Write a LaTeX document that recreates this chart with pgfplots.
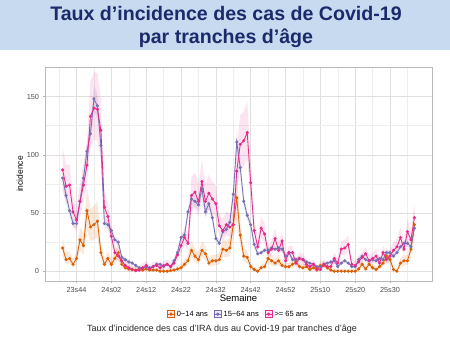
\documentclass[border=0pt]{standalone}
\usepackage{fontspec}
\setmainfont{Liberation Sans}
\usepackage{pgfplots}
\pgfplotsset{compat=1.18}
\usepackage{pgfplotstable}
\usepgfplotslibrary{fillbetween}
\definecolor{cO}{HTML}{D95F02}
\definecolor{cB}{HTML}{7570B3}
\definecolor{cM}{HTML}{E7298A}
\definecolor{band}{HTML}{C8DAF0}
\definecolor{navy}{HTML}{1B2A6B}
\definecolor{tick}{HTML}{4D4D4D}
\pgfplotstableread{
i O Ol Oh B Bl Bh M Ml Mh
-4 20 13 29 80 73 87 87 69 107
-3 10 6 16 65 59 71 73 58 91
-2 11 7 17 52 47 57 74 59 92
-1 6 3 10 41 37 45 51 40 64
0 11 7 17 41 37 45 44 34 56
1 27 18 38 60 55 65 60 47 75
2 22 14 32 80 73 87 74 59 92
3 52 35 72 103 95 111 91 73 112
4 38 26 53 118 109 127 133 107 163
5 40 27 56 148 137 159 140 113 171
6 43 29 60 142 131 153 139 112 170
7 16 10 24 108 99 117 121 97 148
8 6 3 10 41 37 45 55 43 69
9 11 7 17 40 36 44 47 37 59
10 6 3 10 35 32 38 30 23 39
11 11 7 17 27 24 30 16 11 22
12 16 10 24 25 22 28 13 9 19
13 6 3 10 12 10 14 9 5 14
14 3 1 6 10 8 12 5 2 9
15 2 0 5 8 6 10 3 0 7
16 1.5 0 4 7 6 8 1.5 0 5
17 1 0 3 5 4 6 0.5 0 4
18 2 0 5 3 2 4 1 0 4
19 1 0 3 3 2 4 3 0 7
20 2 0 5 4 3 5 5 2 9
21 1 0 3 3 2 4 2 0 5
22 1 0 3 4 3 5 4 1 8
23 1 0 3 6 5 7 5 2 9
24 0 0 2 6 5 7 3 0 7
25 0 0 2 4 3 5 5 2 9
26 0 0 2 6 5 7 6 3 10
27 0.5 0 3 4 3 5 4 1 8
28 1 0 3 9 7 11 7 4 11
29 2 0 5 16 14 18 14 9 20
30 3 1 6 29 26 32 22 16 29
31 6 3 10 31 28 34 29 22 38
32 9 5 14 51 46 56 24 18 32
33 18 12 26 62 57 67 65 51 81
34 13 8 20 60 55 65 68 54 85
35 10 6 16 57 52 62 60 47 75
36 18 12 26 71 65 77 77 61 95
37 15 10 22 51 46 56 60 47 75
38 7 4 11 58 53 63 67 53 83
39 9 5 14 46 42 50 62 49 77
40 9 5 14 28 25 31 58 46 73
41 10 6 16 24 21 27 39 30 50
42 19 12 28 34 31 37 35 27 45
43 18 12 26 36 32 40 40 31 51
44 20 13 29 42 38 46 38 29 49
45 40 27 56 66 60 72 40 31 51
46 63 43 87 111 102 120 86 69 106
47 31 21 44 89 82 96 109 87 134
48 13 8 20 60 55 65 112 90 137
49 12 7 18 48 44 52 119 96 146
50 4 2 7 40 36 44 76 60 94
51 1.5 0 4 23 20 26 35 27 45
52 0 0 2 15 13 17 21 15 28
53 3 1 6 16 14 18 37 28 47
54 4 2 7 18 16 20 32 24 41
55 11 7 17 18 16 20 16 11 22
56 9 5 14 20 18 22 19 14 26
57 7 4 11 19 17 21 28 21 37
58 9 5 14 20 18 22 18 13 25
59 5 3 9 19 17 21 26 19 34
60 4 2 7 13 11 15 9 5 14
61 4 2 7 16 14 18 16 11 22
62 6 3 10 10 8 12 16 11 22
63 8 5 13 10 8 12 7 4 11
64 4 2 7 11 9 13 11 7 16
65 3 1 6 10 8 12 10 6 15
66 4 2 7 8 6 10 6 3 10
67 1.5 0 4 7 6 8 4 1 8
68 3 1 6 6 5 7 6 3 10
69 1 0 3 4 3 5 2 0 5
70 5 3 9 4 3 5 1.5 0 5
71 5 3 9 6 5 7 6 3 10
72 3 1 6 7 6 8 4 1 8
73 1 0 3 8 6 10 4 1 8
74 0 0 2 9 7 11 11 7 16
75 0 0 2 4 3 5 7 4 11
76 0 0 2 7 6 8 19 14 26
77 0 0 2 9 7 11 20 14 27
78 0 0 2 7 6 8 23 17 31
79 0 0 2 4 3 5 6 3 10
80 0 0 2 4 3 5 5 2 9
81 2 0 5 10 8 12 8 5 13
82 6 3 10 13 11 15 12 8 17
83 2 0 5 10 8 12 15 10 21
84 6 3 10 9 7 11 9 5 14
85 3 1 6 10 8 12 11 7 16
86 1.5 0 4 9 7 11 13 9 19
87 4 2 7 11 9 13 7 4 11
88 7 4 11 10 8 12 16 11 22
89 13 8 20 16 14 18 10 6 15
90 10 6 16 16 14 18 13 9 19
91 1.5 0 4 13 11 15 18 13 25
92 0 0 2 16 14 18 21 15 28
93 7 4 11 21 19 23 29 22 38
94 9 5 14 24 21 27 19 14 26
95 9 5 14 24 21 27 34 26 44
96 19 12 28 21 19 23 27 20 35
97 40 27 56 37 33 41 46 36 58
}\data
\begin{document}
\begin{tikzpicture}
\path (0pt,0pt) rectangle (450pt,350pt);
\fill[band] (0pt,300pt) rectangle (450pt,350pt);
\node[font=\fontsize{19.6}{22.5}\selectfont\bfseries, text=navy, align=center] at (226pt,323pt) {Taux d’incidence des cas de Covid-19\\par tranches d’âge};
\begin{axis}[
  at={(45pt,69pt)}, anchor=south west, scale only axis,
  width=387pt, height=214pt,
  xmin=-9.05, xmax=102.05, ymin=-8.35, ymax=175.35,
  xtick={0,10,...,90},
  xticklabels={23s44,24s02,24s12,24s22,24s32,24s42,24s52,25s10,25s20,25s30},
  minor xtick={-5,5,...,95},
  ytick={0,50,100,150}, minor ytick={25,75,125},
  grid=both,
  major grid style={draw=gray!25, line width=0.5pt},
  minor grid style={draw=gray!13, line width=0.4pt},
  axis line style={draw=gray!55, line width=0.5pt},
  tick align=outside, major tick length=2.5pt, minor tick length=0pt,
  major tick style={draw=gray!60, line width=0.45pt},
  xtick pos=bottom, ytick pos=left,
  tick label style={font=\fontsize{7.3}{8}\selectfont, text=tick},
  /pgf/number format/assume math mode=true,
  xlabel={Semaine}, ylabel={incidence},
  xlabel style={font=\fontsize{9.5}{11}\selectfont, at={(axis description cs:0.5,-0.08)}, anchor=center},
  ylabel style={font=\fontsize{8.5}{10}\selectfont, at={(axis description cs:-0.065,0.5)}, anchor=center, rotate=0},
  legend style={at={(0.5,-0.155)}, anchor=center, draw=none, fill=none,
    legend columns=3, font=\fontsize{7.5}{9}\selectfont,
    /tikz/every even column/.append style={column sep=4pt}},
  legend cell align=left,
]
% ribbons
\addplot[draw=none, name path=ol, forget plot] table[x=i,y=Ol]{\data};
\addplot[draw=none, name path=oh, forget plot] table[x=i,y=Oh]{\data};
\addplot[fill=cO, fill opacity=0.14, draw=none, forget plot] fill between[of=ol and oh];
\addplot[draw=none, name path=bl, forget plot] table[x=i,y=Bl]{\data};
\addplot[draw=none, name path=bh, forget plot] table[x=i,y=Bh]{\data};
\addplot[fill=cB, fill opacity=0.14, draw=none, forget plot] fill between[of=bl and bh];
\addplot[draw=none, name path=ml, forget plot] table[x=i,y=Ml]{\data};
\addplot[draw=none, name path=mh, forget plot] table[x=i,y=Mh]{\data};
\addplot[fill=cM, fill opacity=0.12, draw=none, forget plot] fill between[of=ml and mh];
% lines
\addplot[cO, line width=0.85pt, mark=*, mark size=1.1pt,
  legend image code/.code={\draw[draw=cO, fill=cO!15, line width=0.4pt] (0pt,-3.5pt) rectangle (7pt,3.5pt); \draw[cO, line width=0.7pt] (0pt,0pt)--(7pt,0pt); \fill[cO] (3.5pt,0pt) circle (1.1pt);}]
  table[x=i,y=O]{\data};
\addlegendentry{0−14 ans}
\addplot[cB, line width=0.85pt, mark=*, mark size=1.1pt,
  legend image code/.code={\draw[draw=cB, fill=cB!15, line width=0.4pt] (0pt,-3.5pt) rectangle (7pt,3.5pt); \draw[cB, line width=0.7pt] (0pt,0pt)--(7pt,0pt); \fill[cB] (3.5pt,0pt) circle (1.1pt);}]
  table[x=i,y=B]{\data};
\addlegendentry{15−64 ans}
\addplot[cM, line width=0.85pt, mark=*, mark size=1.1pt,
  legend image code/.code={\draw[draw=cM, fill=cM!15, line width=0.4pt] (0pt,-3.5pt) rectangle (7pt,3.5pt); \draw[cM, line width=0.7pt] (0pt,0pt)--(7pt,0pt); \fill[cM] (3.5pt,0pt) circle (1.1pt);}]
  table[x=i,y=M]{\data};
\addlegendentry{>= 65 ans}
\end{axis}
\node[font=\fontsize{9}{11}\selectfont, text=black!85] at (222pt,21pt) {Taux d'incidence des cas d'IRA dus au Covid-19 par tranches d'âge};
\end{tikzpicture}
\end{document}
